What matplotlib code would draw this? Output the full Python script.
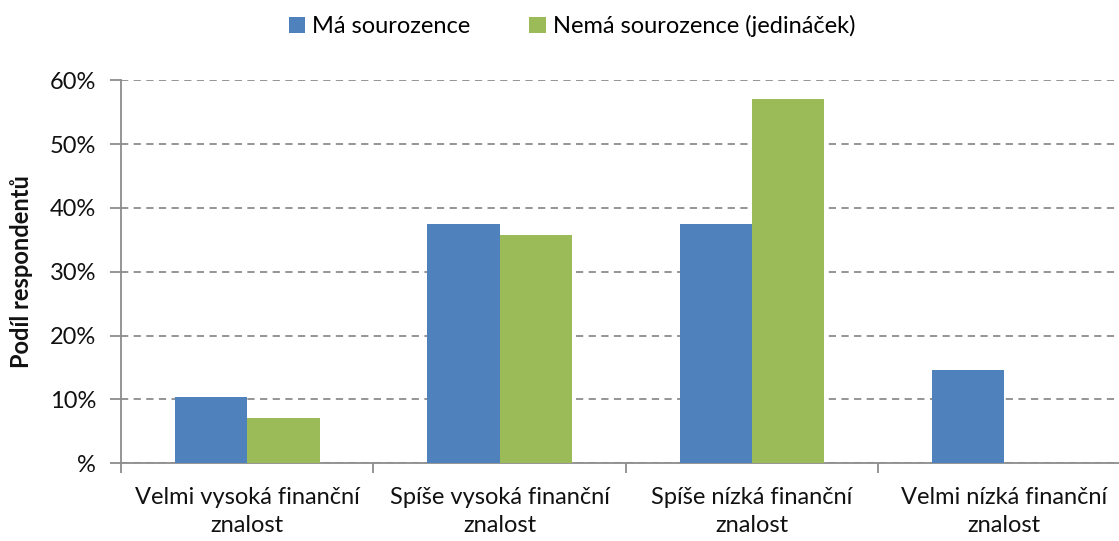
import matplotlib
matplotlib.use("Agg")
import matplotlib.pyplot as plt
import numpy as np
from matplotlib.ticker import FixedLocator

categories = ["Velmi vysoká finanční\nznalost", "Spíše vysoká finanční\nznalost",
              "Spíše nízká finanční\nznalost", "Velmi nízká finanční\nznalost"]
series_names = ["Má sourozence", "Nemá sourozence (jedináček)"]
ma_sourozence = [0.104, 0.375, 0.375, 0.146]
jedinacek = [0.071, 0.357, 0.571, 0.0]
y_ticks = [0, 0.1, 0.2, 0.3, 0.4, 0.5, 0.6]
y_tick_labels = ["%", "10%", "20%", "30%", "40%", "50%", "60%"]

plt.rcParams['font.family'] = ['Lato', 'DejaVu Sans']

W, H = 1119, 541
fig = plt.figure(figsize=(W/100, H/100), dpi=100)
left, right = 121.3, 1130
bottom, top = 463.3, 80.3
ax = fig.add_axes([left/W, 1 - bottom/H, (right-left)/W, (bottom-top)/H])

x = np.arange(len(categories))
bw = 0.286
blue = "#4F81BD"
green = "#9BBB59"
ax.bar(x - bw/2, ma_sourozence, bw, color=blue, label=series_names[0], zorder=3)
ax.bar(x + bw/2, jedinacek, bw, color=green, label=series_names[1], zorder=3)

ax.set_xlim(-0.5, len(categories) - 0.5)
ax.set_ylim(0, 0.6)
ax.set_yticks(y_ticks)
ax.set_yticklabels(y_tick_labels)
ax.yaxis.grid(True, linestyle=(0, (4, 3)), color="#8C8C8C", linewidth=1.3, zorder=0)
ax.set_axisbelow(True)

fs = 17
ax.set_xticks(x)
ax.set_xticklabels(categories, fontsize=fs, linespacing=1.42, color="#111111")
ax.xaxis.set_minor_locator(FixedLocator(np.arange(-0.5, len(categories) + 0.5, 1)))
ax.tick_params(axis='x', which='major', length=0, pad=17)
ax.tick_params(axis='x', which='minor', length=7, color="#8C8C8C", width=1.3)
ax.tick_params(axis='y', length=8, color="#8C8C8C", width=1.3, labelsize=fs, pad=10,
               labelcolor="#111111")

for s in ['top', 'right']:
    ax.spines[s].set_visible(False)
for s in ['left', 'bottom']:
    ax.spines[s].set_color("#8C8C8C")
    ax.spines[s].set_linewidth(1.3)

fig.text(22/W, 1 - 272/H, "Podíl respondentů", rotation=90, ha='center', va='center',
         fontsize=17, fontweight='bold', color="#111111")

leg = fig.legend(loc='center', bbox_to_anchor=(572/W, 1 - 26/H), ncol=2, frameon=False,
                 fontsize=fs, handlelength=0.7, handleheight=0.7, handletextpad=0.3,
                 columnspacing=2.5)

fig.savefig("out.png", dpi=100)
